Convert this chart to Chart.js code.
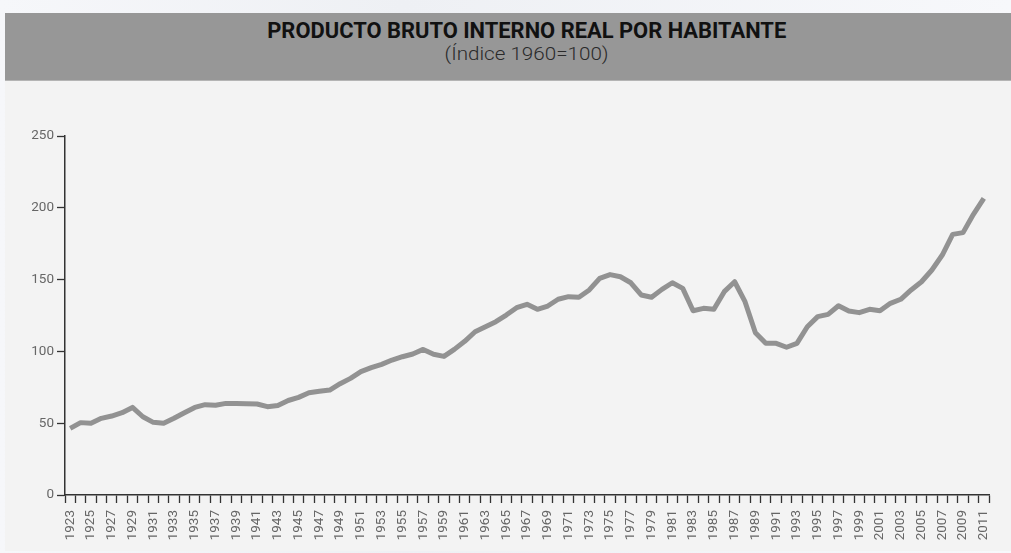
<!DOCTYPE html>
<html lang="es">
<head>
<meta charset="utf-8">
<title>Producto bruto interno real por habitante</title>
<script src="https://cdn.jsdelivr.net/npm/chart.js@4.4.1/dist/chart.umd.min.js"></script>
<style>
  html, body { margin: 0; padding: 0; }
  body {
    width: 1011px; height: 553px; overflow: hidden; position: relative;
    background: linear-gradient(90deg, #f6f7fa 0%, #eef0f4 40%, #f7f8fb 100%);
    font-family: Roboto, 'Open Sans', sans-serif;
  }
  #panel {
    position: absolute; left: 5px; top: 13px; right: 0; bottom: 2px;
    background: #f3f3f3;
  }
  #cabecera {
    position: absolute; left: 5px; top: 13px; right: 0; height: 67px;
    background: #979797;
    border-bottom: 1px solid #b4b4b4;
  }
  .linea-titulo {
    position: absolute; left: 0; width: 1044px; text-align: center; white-space: nowrap;
  }
  .linea-titulo span { display: inline-block; transform-origin: center center; }
  #titulo { top: 5px; font-size: 22px; line-height: 26px; font-weight: 700; color: #111; }
  #subtitulo { top: 29px; font-size: 18px; line-height: 24px; font-weight: 300; color: #2a2a2a; }
  #contenedor-grafico { position: absolute; left: 0; top: 81px; width: 1011px; height: 472px; }
</style>
</head>
<body>
<div id="panel"></div>
<div id="cabecera">
  <div class="linea-titulo" id="titulo"><span data-ancho="519">PRODUCTO BRUTO INTERNO REAL POR HABITANTE</span></div>
  <div class="linea-titulo" id="subtitulo"><span data-ancho="164">(Índice 1960=100)</span></div>
</div>
<div id="contenedor-grafico"><canvas id="grafico-pib"></canvas></div>

<script>
/* PBI real por habitante, índice 1960=100 */

const anios = [
  1923, 1924, 1925, 1926, 1927, 1928, 1929, 1930, 1931, 1932,
  1933, 1934, 1935, 1936, 1937, 1938, 1939, 1940, 1941, 1942,
  1943, 1944, 1945, 1946, 1947, 1948, 1949, 1950, 1951, 1952,
  1953, 1954, 1955, 1956, 1957, 1958, 1959, 1960, 1961, 1962,
  1963, 1964, 1965, 1966, 1967, 1968, 1969, 1970, 1971, 1972,
  1973, 1974, 1975, 1976, 1977, 1978, 1979, 1980, 1981, 1982,
  1983, 1984, 1985, 1986, 1987, 1988, 1989, 1990, 1991, 1992,
  1993, 1994, 1995, 1996, 1997, 1998, 1999, 2000, 2001, 2002,
  2003, 2004, 2005, 2006, 2007, 2008, 2009, 2010, 2011
];

const pibPorHabitante = [
  46.4, 50.4, 50.0, 53.4, 55.0, 57.3, 61.0, 54.5, 50.6, 49.9,
  53.4, 57.3, 61.0, 62.9, 62.5, 63.8, 63.8, 63.6, 63.4, 61.5,
  62.3, 65.8, 68.0, 71.2, 72.2, 73.1, 77.5, 81.2, 85.9, 88.7,
  91.0, 94.0, 96.3, 98.2, 101.4, 98.0, 96.5, 101.4, 107.0, 113.7,
  117.2, 120.7, 125.3, 130.4, 132.8, 129.3, 131.6, 136.3, 138.1, 137.7,
  142.8, 150.9, 153.5, 152.0, 147.8, 139.3, 137.7, 143.2, 147.8, 143.9,
  128.3, 130.0, 129.3, 141.6, 148.5, 134.6, 113.0, 105.6, 105.6, 102.9,
  105.6, 117.2, 124.2, 125.8, 131.8, 128.1, 127.0, 129.3, 128.3, 133.5,
  136.3, 142.8, 148.5, 156.7, 167.1, 181.5, 182.7, 195.5, 206.6
];

const ticksY = [0, 50, 100, 150, 200, 250];

const FUENTE = "Roboto, 'Open Sans', sans-serif";
const COLOR_EJE = '#333';
const COLOR_TEXTO = '#666';

// Ajusta los títulos al ancho del original
document.querySelectorAll('.linea-titulo span').forEach(el => {
  const objetivo = +el.dataset.ancho;
  const real = el.getBoundingClientRect().width;
  if (real > 0) el.style.transform = `scaleX(${objetivo / real})`;
});

function construirGrafico() {
  const ctx = document.getElementById('grafico-pib').getContext('2d');

  new Chart(ctx, {
    type: 'line',
    data: {
      labels: anios,
      datasets: [{
        data: pibPorHabitante,
        borderColor: '#929292',
        borderWidth: 5,
        borderJoinStyle: 'round',
        pointRadius: 0,
        tension: 0,
        fill: false,
      }]
    },
    options: {
      animation: false,
      responsive: true,
      maintainAspectRatio: false,
      layout: { autoPadding: false, padding: { left: 0, right: 22, top: 55, bottom: 0 } },
      plugins: {
        legend: { display: false },
        tooltip: { enabled: false }
      },
      scales: {
        x: {
          offset: true,
          afterFit: s => { s.height = 58; },
          border: { display: true, color: COLOR_EJE, width: 1.5 },
          grid: {
            offset: true,
            drawOnChartArea: false,
            drawTicks: true,
            tickLength: 8,
            tickColor: COLOR_EJE,
            tickWidth: 1.3,
          },
          ticks: {
            autoSkip: false,
            minRotation: 90,
            maxRotation: 90,
            padding: 7,
            color: COLOR_TEXTO,
            font: { family: FUENTE, size: 13.5 },
            callback: (v, i) => (i % 2 === 0 ? String(anios[i]) : '')
          }
        },
        y: {
          min: 0,
          max: 250,
          afterFit: s => { s.width = 65; },
          afterBuildTicks: s => { s.ticks = ticksY.map(v => ({ value: v })); },
          border: { display: true, color: COLOR_EJE, width: 1.5 },
          grid: {
            drawOnChartArea: false,
            drawTicks: true,
            tickLength: 8,
            tickColor: COLOR_EJE,
            tickWidth: 1.3,
          },
          ticks: {
            padding: 3,
            color: COLOR_TEXTO,
            font: { family: FUENTE, size: 13.5 },
          }
        }
      }
    }
  });
}

document.addEventListener('DOMContentLoaded', construirGrafico);
</script>
</body>
</html>
